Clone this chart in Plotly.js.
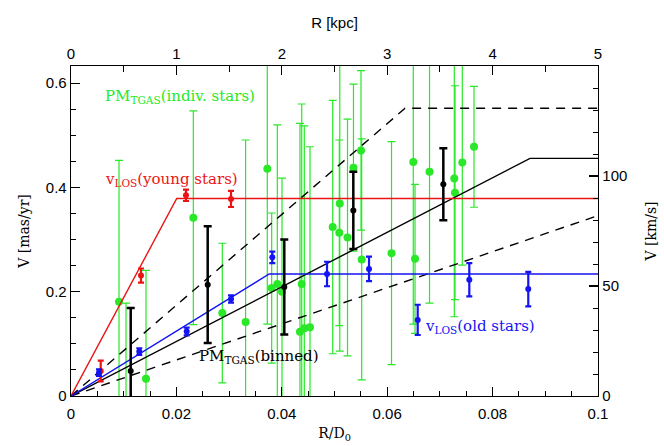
<!DOCTYPE html>
<html><head><meta charset="utf-8">
<script src="https://cdn.plot.ly/plotly-3.0.1.min.js"></script>
<style>html,body{margin:0;padding:0;background:#fff}</style>
</head><body><div id="chart" style="width:664px;height:446px"></div>
<script>
// conversions
const D0_KPC = 50;                 // R [kpc] = R/D0 * 50
const KMS_PER_MASYR = 4.74 * 50;   // V [km/s] = 237 * V [mas/yr]
const X_MAX = 0.1;
const VKMS_MAX = 150;

// tick labels
const xTicks    = [0, 0.02, 0.04, 0.06, 0.08, 0.1];
const xTickText = ['0', '0.02', '0.04', '0.06', '0.08', '0.1'];
const yTicks    = [0, 0.2, 0.4, 0.6];
const yTickText = ['0', '0.2', '0.4', '0.6'];
const kpcTicks  = [0, 1, 2, 3, 4, 5];
const kmsTicks  = [0, 50, 100];

// PM_TGAS individual stars
const greenX   = [0.00911,0.01044,0.01423,0.02321,0.02871,0.03313,0.03725,0.03808,0.03915,0.04004,0.04345,0.04378,0.04427,0.04535,0.04966,0.05091,0.05100,0.05247,0.05360,0.05503,0.05516,0.06082,0.06495,0.06528,0.06803,0.07273,0.07287,0.07425,0.07647];
const greenV   = [0.181,-0.030,0.033,0.342,0.159,0.142,0.436,0.207,0.215,0.200,0.123,0.215,0.130,0.132,0.324,0.313,0.369,0.304,0.438,0.471,0.262,0.274,0.449,0.263,0.430,0.417,0.390,0.448,0.478];
const greenErr = [0.271,0.208,0.208,0.205,0.134,0.349,0.298,0.144,0.305,0.218,0.400,0.345,0.388,0.346,0.243,0.178,0.283,0.227,0.160,0.153,0.231,0.214,0.311,0.143,0.252,0.265,0.205,0.197,0.116];

// PM_TGAS binned
const binX   = [0.01133,0.02594,0.04047,0.05357,0.07065];
const binV   = [0.048,0.2135,0.209,0.356,0.406];
const binErr = [0.121,0.112,0.091,0.074,0.069];

// v_LOS young stars
const youngX   = [0.00564,0.01328,0.02182,0.03036];
const youngV   = [0.048,0.231,0.385,0.378];
const youngErr = [0.020,0.0135,0.011,0.0155];

// v_LOS old stars
const oldX   = [0.00531,0.01296,0.02195,0.03036,0.0382,0.04858,0.05655,0.06579,0.07558,0.08677];
const oldV   = [0.0448,0.0852,0.1237,0.186,0.266,0.234,0.2437,0.146,0.223,0.205];
const oldErr = [0.0064,0.0064,0.0074,0.007,0.011,0.0235,0.0235,0.029,0.032,0.033];

// model curves
const youngModelX = [0,0.02006,0.1], youngModelV = [0,0.3788,0.3788];
const oldModelX   = [0,0.0376,0.1],  oldModelV   = [0,0.234,0.234];
const pmModelX    = [0,0.0871,0.1],  pmModelV    = [0,0.4558,0.4558];
const pmUpperX    = [0,0.0634,0.1],  pmUpperV    = [0,0.552,0.552];
const pmLowerX    = [0,0.1],         pmLowerV    = [0,0.346];

const GREEN = 'rgb(40,232,40)';
const RED = 'rgb(235,20,20)';
const BLUE = 'rgb(20,20,240)';
const serif = 'DejaVu Serif, serif';
const sans = 'Liberation Sans, Arial, sans-serif';

function errTrace(x, y, e, color, msize, thick, capw) {
  return {x:x, y:y, type:'scatter', mode:'markers', xaxis:'x', yaxis:'y',
    marker:{color:color, size:msize},
    error_y:{type:'data', array:e, visible:true, color:color, thickness:thick, width:capw},
    hoverinfo:'skip', showlegend:false};
}
function lineTrace(x, y, color, dash) {
  return {x:x, y:y, type:'scatter', mode:'lines', xaxis:'x', yaxis:'y',
    line:{color:color, width:1.4, dash:dash||'solid'}, hoverinfo:'skip', showlegend:false};
}

// same stars expressed in kpc and km/s, attached to the top/right axes (invisible)
const physTrace = {
  x: greenX.map(v => v * D0_KPC), y: greenV.map(v => v * KMS_PER_MASYR),
  type:'scatter', mode:'markers', xaxis:'x2', yaxis:'y2',
  marker:{opacity:0, size:1}, hoverinfo:'skip', showlegend:false
};

const data = [
  physTrace,
  errTrace(greenX, greenV, greenErr, GREEN, 8, 1.2, 4),
  lineTrace(pmUpperX, pmUpperV, 'black', '9px,7px'),
  lineTrace(pmLowerX, pmLowerV, 'black', '9px,7px'),
  lineTrace(pmModelX, pmModelV, 'black'),
  lineTrace(youngModelX, youngModelV, RED),
  lineTrace(oldModelX, oldModelV, BLUE),
  errTrace(binX, binV, binErr, 'black', 6, 2.5, 4),
  errTrace(youngX, youngV, youngErr, RED, 6, 2.2, 3),
  errTrace(oldX, oldV, oldErr, BLUE, 6, 2.2, 3)
];

const tickFont = {family:sans, size:15, color:'black'};
const axBase = {showgrid:false, zeroline:false, showline:true, linecolor:'black', linewidth:1.3,
  ticks:'inside', ticklen:9, tickwidth:1.2, tickcolor:'black', tickfont:tickFont, fixedrange:true};

const layout = {
  width:664, height:446,
  margin:{l:71, r:66, t:66, b:50, pad:0},
  paper_bgcolor:'white', plot_bgcolor:'white',
  showlegend:false,
  xaxis:Object.assign({}, axBase, {range:[0,X_MAX], tickvals:xTicks, ticktext:xTickText, ticklabelstandoff:4,
    minor:{ticks:'inside', dtick:0.005, ticklen:5, tickcolor:'black', tickwidth:1},
    title:{text:'R/D<sub>0</sub>', font:{family:serif, size:14, color:'black'}, standoff:7}}),
  yaxis:Object.assign({}, axBase, {range:[0,VKMS_MAX/KMS_PER_MASYR], tickvals:yTicks, ticktext:yTickText,
    minor:{ticks:'inside', dtick:0.05, ticklen:5, tickcolor:'black', tickwidth:1},
    title:{text:'V [mas/yr]', font:{family:serif, size:14, color:'black'}, standoff:13}}),
  xaxis2:Object.assign({}, axBase, {overlaying:'x', side:'top', anchor:'y', range:[0,X_MAX*D0_KPC],
    tickvals:kpcTicks, minor:{ticks:'inside', dtick:0.5, ticklen:6, tickcolor:'black', tickwidth:1},
    title:{text:'R [kpc]', font:{family:sans, size:15, color:'black'}, standoff:12}}),
  yaxis2:Object.assign({}, axBase, {overlaying:'y', side:'right', anchor:'x', range:[0,VKMS_MAX],
    tickvals:kmsTicks, minor:{ticks:'inside', dtick:10, ticklen:5, tickcolor:'black', tickwidth:1},
    title:{text:'V [km/s]', font:{family:serif, size:14, color:'black'}, standoff:20}}),
  annotations:[
    {x:0.0061, y:0.575, xref:'x', yref:'y', xanchor:'left', yanchor:'middle', showarrow:false,
     text:'PM<sub>TGAS</sub>(indiv. stars)', font:{family:serif, size:15, color:GREEN}},
    {x:0.0061, y:0.415, xref:'x', yref:'y', xanchor:'left', yanchor:'middle', showarrow:false,
     text:'v<sub>LOS</sub>(young stars)', font:{family:serif, size:15, color:RED}},
    {x:0.0240, y:0.075, xref:'x', yref:'y', xanchor:'left', yanchor:'middle', showarrow:false,
     text:'PM<sub>TGAS</sub>(binned)', font:{family:serif, size:15, color:'black'}},
    {x:0.0667, y:0.133, xref:'x', yref:'y', xanchor:'left', yanchor:'middle', showarrow:false,
     text:'v<sub>LOS</sub>(old stars)', font:{family:serif, size:15, color:BLUE}}
  ]
};

Plotly.newPlot('chart', data, layout, {displayModeBar:false, staticPlot:true});
</script></body></html>
